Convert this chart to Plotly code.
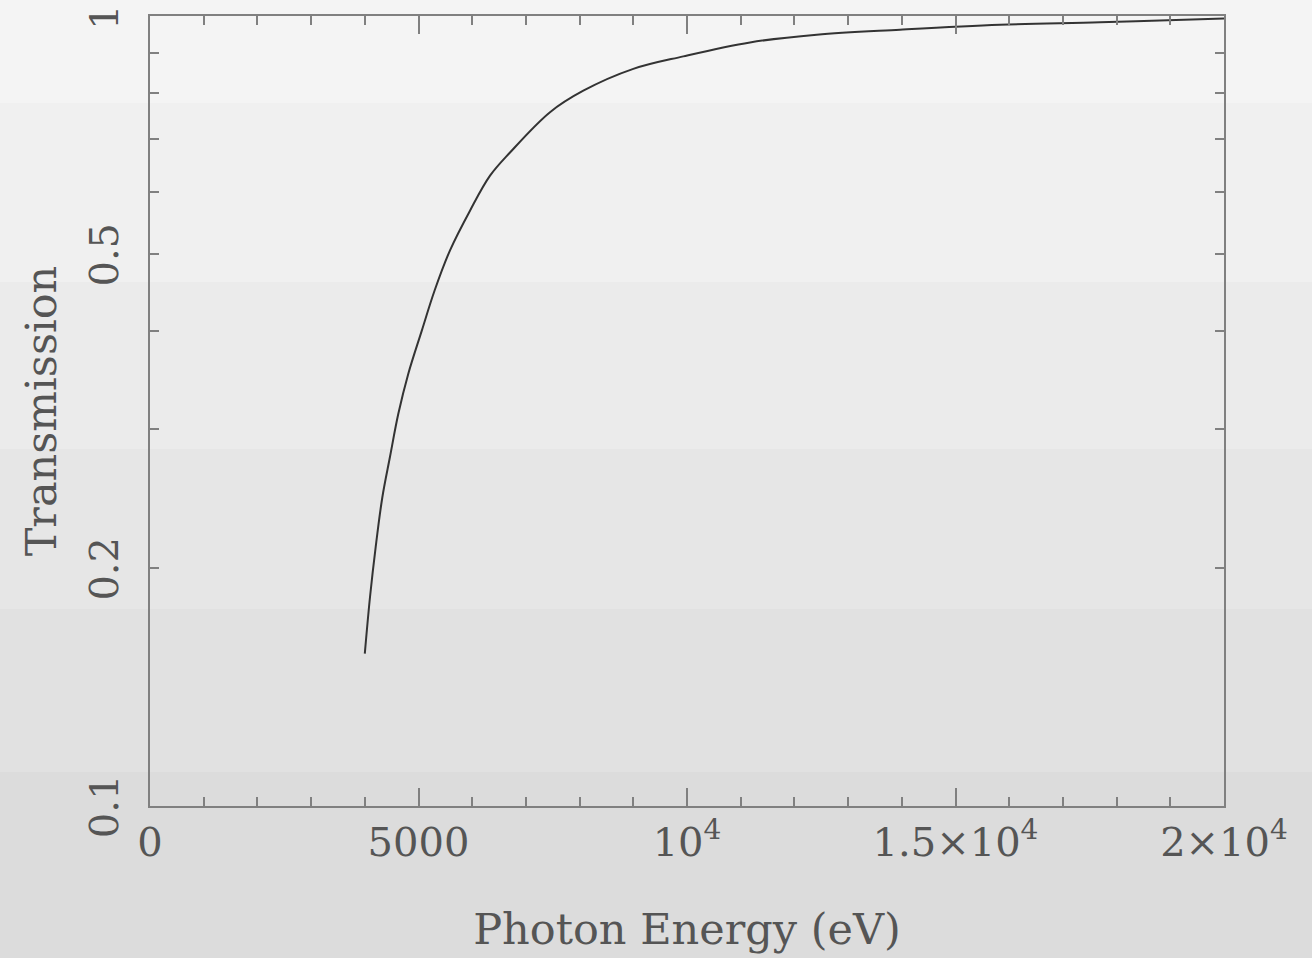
import plotly.graph_objects as go

# Data
energy_ev = [4000, 4097, 4203, 4326, 4469, 4624, 4810, 5060, 5300, 5587, 5959, 6332,
             6704, 7449, 8069, 9000, 9931, 11173, 12415, 13966, 15829, 17691,
             19553, 20000]
transmission = [0.156, 0.184, 0.213, 0.246, 0.277, 0.314, 0.353, 0.400, 0.450, 0.506,
                 0.568, 0.629, 0.673, 0.757, 0.806, 0.859, 0.891, 0.928, 0.949,
                 0.963, 0.977, 0.984, 0.993, 0.995]

x_tickvals = [0, 5000, 10000, 15000, 20000]
x_ticktext = ["0", "5000", "10<sup>4</sup>", "1.5×10<sup>4</sup>", "2×10<sup>4</sup>"]
y_tickvals = [0.1, 0.2, 0.5, 1]
y_ticktext = ["0.1", "0.2", "0.5", "1"]
y_minor = [0.3, 0.4, 0.6, 0.7, 0.8, 0.9]

W, H = 1312, 958
L, R, T, B = 150, 88, 16, 152
plot_h = H - T - B

# background bands (pixel rows) and colours
band_edges = [0, 103, 282, 449, 609, 772, 958]
band_colors = ["#f4f4f4", "#f0f0f0", "#ebebeb", "#e6e6e6", "#e1e1e1", "#dcdcdc"]

def py2paper(py):
    return (H - B - py) / plot_h

shapes = []
for i, c in enumerate(band_colors):
    shapes.append(dict(type="rect", xref="paper", yref="paper",
                       x0=-L / (W - L - R) - 0.01, x1=1 + R / (W - L - R) + 0.01,
                       y0=py2paper(band_edges[i + 1]), y1=py2paper(band_edges[i]),
                       fillcolor=c, line=dict(width=0), layer="below"))

font_family = "DejaVu Serif"
text_color = "#555555"
axis_color = "#808080"

fig = go.Figure()
fig.add_trace(go.Scatter(x=energy_ev, y=transmission, mode="lines",
                         line=dict(color="#333333", width=2, shape="spline", smoothing=1.0),
                         showlegend=False, hoverinfo="skip"))

# trailing no-break space re-centres the rotated labels on their ticks
y_ticktext_drawn = [t + "\u00a0" for t in y_ticktext]

fig.update_layout(
    width=W, height=H,
    margin=dict(l=L, r=R, t=T, b=B, autoexpand=False),
    paper_bgcolor="#f4f4f4", plot_bgcolor="rgba(0,0,0,0)",
    shapes=shapes,
    font=dict(family=font_family, color=text_color, size=40),
    xaxis=dict(range=[0, 20000], tickvals=x_tickvals, ticktext=x_ticktext,
               ticks="inside", ticklen=18, tickwidth=1.5, tickcolor=axis_color,
               minor=dict(dtick=1000, ticks="inside", ticklen=9, tickwidth=1.5,
                          tickcolor=axis_color, showgrid=False),
               showline=True, linecolor=axis_color, linewidth=2, mirror="allticks",
               showgrid=False, zeroline=False,
               tickfont=dict(family=font_family, size=40, color=text_color),
               title=dict(text="Photon Energy (eV)", standoff=50,
                          font=dict(family=font_family, size=43, color=text_color))),
    yaxis=dict(type="log", range=[-1, 0.001], tickvals=y_tickvals, ticktext=y_ticktext_drawn,
               ticks="inside", ticklen=9, tickwidth=1.5, tickcolor=axis_color,
               tickangle=-90, ticklabelstandoff=14, ticklabeloverflow="allow",
               minor=dict(tickvals=y_minor, ticks="inside", ticklen=9, tickwidth=1.5,
                          tickcolor=axis_color, showgrid=False),
               showline=True, linecolor=axis_color, linewidth=2, mirror="allticks",
               showgrid=False, zeroline=False,
               tickfont=dict(family=font_family, size=40, color=text_color),
               title=dict(text="Transmission", standoff=11,
                          font=dict(family=font_family, size=43, color=text_color))),
)

fig.write_html("out.html", config={"displayModeBar": False},
               post_script="document.body.style.margin='0';document.body.style.background='#dcdcdc';")
